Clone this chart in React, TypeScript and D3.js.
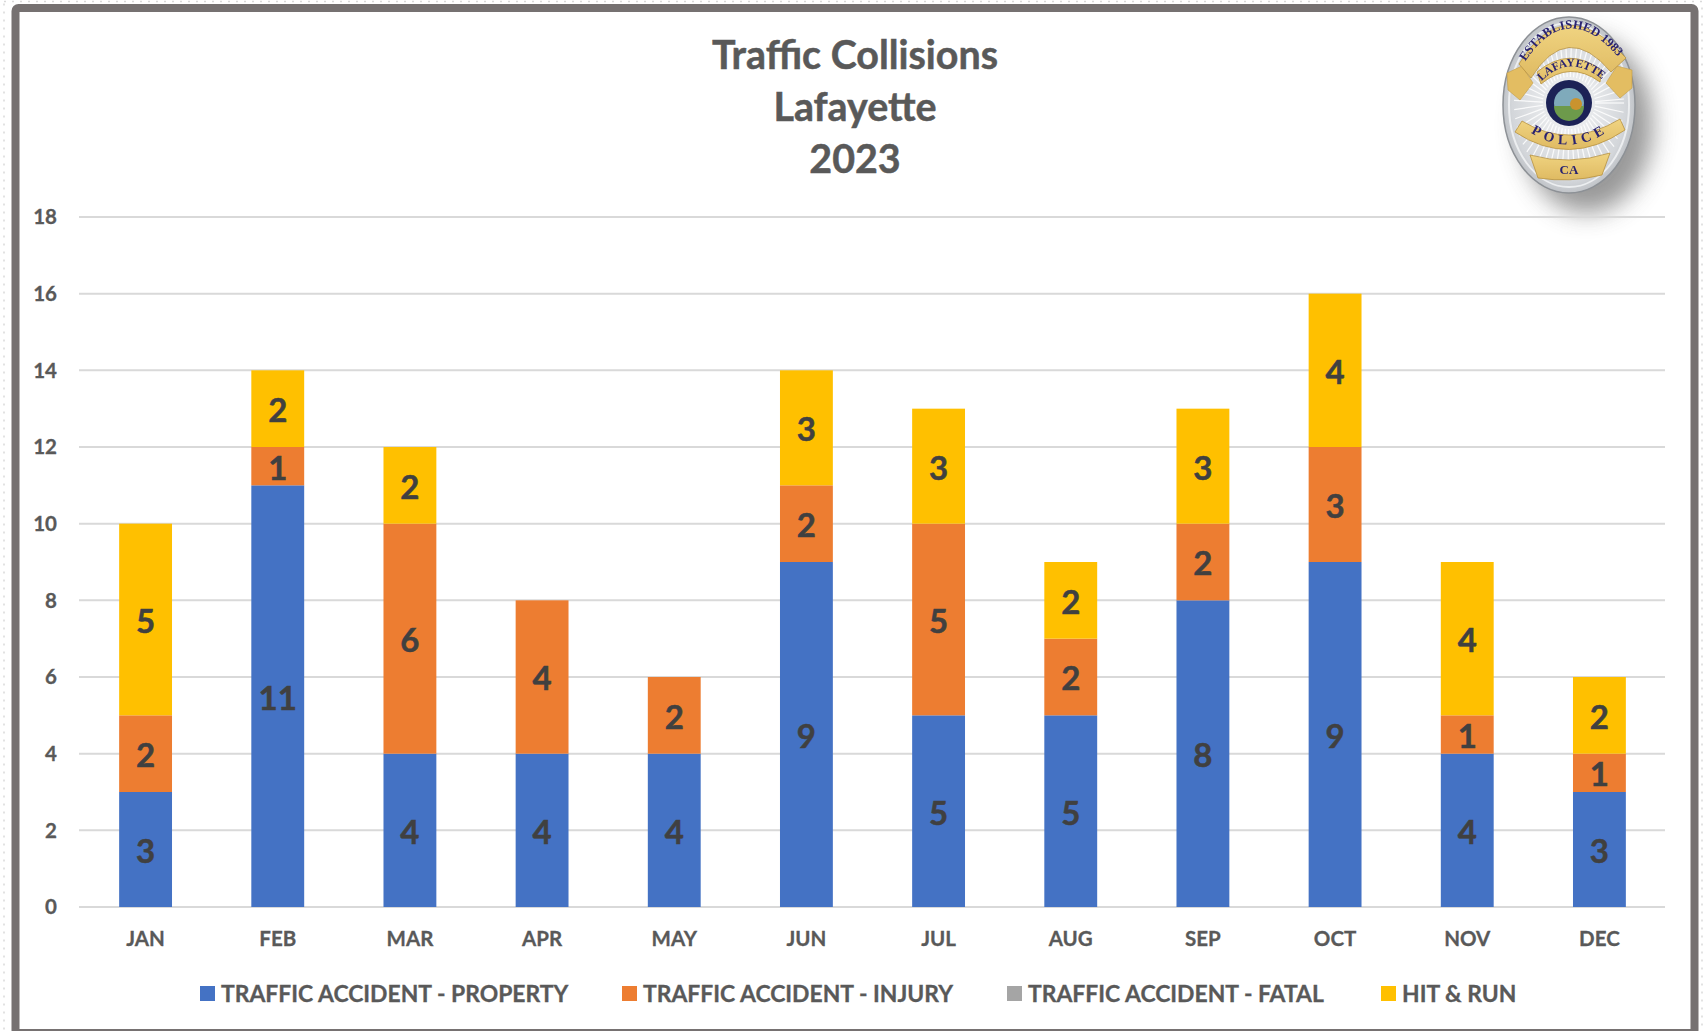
import React from "react";
import * as d3 from "d3";

const months = ["JAN","FEB","MAR","APR","MAY","JUN","JUL","AUG","SEP","OCT","NOV","DEC"];
const property = [3,11,4,4,4,9,5,5,8,9,4,3];
const injury = [2,1,6,4,2,2,5,2,2,3,1,1];
const fatal = [0,0,0,0,0,0,0,0,0,0,0,0];
const hitRun = [5,2,2,0,0,3,3,2,3,4,4,2];
const seriesNames = ["TRAFFIC ACCIDENT - PROPERTY","TRAFFIC ACCIDENT - INJURY","TRAFFIC ACCIDENT - FATAL","HIT & RUN"];
const seriesColors = ["#4472C4","#ED7D31","#A5A5A5","#FFC000"];
const titleLines = ["Traffic Collisions","Lafayette","2023"];
const yTicks = [0,2,4,6,8,10,12,14,16,18];

const W = 1706, H = 1031;
const FONT = "Lato, Carlito, sans-serif";
const legendX = [200, 622, 1007, 1381];
const NAVY = "#2a2470";

function Badge() {
  const serif = "'Liberation Serif', serif";
  return (
    <g>
      <defs>
        <filter id="blur" x="-40%" y="-40%" width="180%" height="180%"><feGaussianBlur stdDeviation="12" /></filter>
        <filter id="soft" x="-5%" y="-5%" width="110%" height="110%"><feGaussianBlur stdDeviation="0.45" /></filter>
        <radialGradient id="silver" cx="50%" cy="50%" r="60%">
          <stop offset="0" stopColor="#f6f7f8" /><stop offset="0.72" stopColor="#d3d6da" /><stop offset="1" stopColor="#a4a8ad" />
        </radialGradient>
        <linearGradient id="gold" x1="0" y1="0" x2="0" y2="1">
          <stop offset="0" stopColor="#f0d481" /><stop offset="1" stopColor="#dfba62" />
        </linearGradient>
        <path id="arcTop" d="M 1518 74 Q 1566 -14 1627 68" />
        <path id="arcLaf" d="M 1539 84 Q 1569 50 1605 82" />
        <path id="arcPol" d="M 1530 132 Q 1569 158 1610 130" />
      </defs>
      <ellipse cx={1587} cy={125} rx={66} ry={88} fill="#555" opacity={0.6} filter="url(#blur)" />
      <g filter="url(#soft)">
        <ellipse cx={1569} cy={105} rx={66} ry={88} fill="url(#silver)" stroke="#8d9196" strokeWidth={1.5} />
        <ellipse cx={1569} cy={105} rx={60} ry={82} fill="none" stroke="#eceef0" strokeWidth={2} />
        {d3.range(0, 360, 7).map(a => {
          const r = a * Math.PI / 180;
          return <line key={a} x1={1569 + 26 * Math.cos(r)} y1={103 + 26 * Math.sin(r)} x2={1569 + 55 * Math.cos(r)} y2={103 + 76 * Math.sin(r)} stroke="#fff" strokeWidth={1.2} opacity={0.85} />;
        })}
        <path d="M 1507 73 L 1522 66 L 1533 83 L 1520 100 L 1508 90 Z" fill="#e3bd62" stroke="#c29c45" strokeWidth={0.6} />
        <path d="M 1632 70 L 1617 66 L 1606 83 L 1620 98 L 1632 88 Z" fill="#e3bd62" stroke="#c29c45" strokeWidth={0.6} />
        <path d="M 1519 64 Q 1564 -10 1626 58 L 1611 72 Q 1567 20 1531 78 Z" fill="url(#gold)" stroke="#b8923f" strokeWidth={0.8} />
        <path d="M 1537 72 Q 1570 45 1602 71 L 1600 82 Q 1570 60 1541 84 Z" fill="url(#gold)" stroke="#b8923f" strokeWidth={0.8} />
        <path d="M 1522 121 Q 1569 150 1620 119 L 1625 130 Q 1569 168 1515 132 Z" fill="url(#gold)" stroke="#b8923f" strokeWidth={0.8} />
        <path d="M 1530 155 Q 1569 166 1610 153 L 1602 175 Q 1570 183 1538 178 Z" fill="url(#gold)" stroke="#b8923f" strokeWidth={0.8} />
        <circle cx={1569} cy={103} r={23} fill="#1d2457" />
        <circle cx={1569} cy={103} r={15} fill="#7faabb" />
        <path d="M 1554 106 L 1584 106 A 15 15 0 0 1 1554 106 Z" fill="#6d9a4c" />
        <circle cx={1576} cy={104} r={6} fill="#c9932f" />
        <text fontFamily={serif} fontSize={12.5} fontWeight="bold" fill={NAVY} textAnchor="middle"><textPath href="#arcTop" startOffset="50%">ESTABLISHED 1983</textPath></text>
        <text fontFamily={serif} fontSize={11.5} fontWeight="bold" fill={NAVY} textAnchor="middle"><textPath href="#arcLaf" startOffset="50%">LAFAYETTE</textPath></text>
        <text fontFamily={serif} fontSize={14} fontWeight="bold" letterSpacing={5} fill={NAVY} textAnchor="middle"><textPath href="#arcPol" startOffset="50%">POLICE</textPath></text>
        <text x={1569} y={174} textAnchor="middle" fontFamily={serif} fontSize={13} fontWeight="bold" fill={NAVY}>CA</text>
      </g>
    </g>
  );
}

export default function App() {
  const x = d3.scaleBand().domain(months).range([79.5, 1665.5]).paddingInner(0.6).paddingOuter(0.3);
  const y = d3.scaleLinear().domain([0, 18]).range([907, 217]);
  const rows = months.map((m, i) => ({ m, a: property[i], b: injury[i], c: fatal[i], d: hitRun[i] }));
  const stacked = d3.stack<any>().keys(["a","b","c","d"])(rows);

  return (
    <div style={{ position: "absolute", left: 0, top: 0, width: W, height: H, overflow: "hidden" }}>
      <svg width={W} height={H} style={{ display: "block" }} fontFamily={FONT}>
        <rect width={W} height={H} fill="#fff" />
        <rect x={4} y={1.5} width={1698} height={1032} fill="none" stroke="#d9d9d9" strokeWidth={1.5} strokeDasharray="2 6" />
        <rect x={15.5} y={8} width={1679} height={1025} rx={3} fill="#fff" stroke="#767171" strokeWidth={8} />
        {titleLines.map((t, i) => (
          <text key={t} x={855} y={69 + i * 52} textAnchor="middle" fontSize={39.4} fontWeight={700} fill="#595959" stroke="#595959" strokeWidth={0.5}>{t}</text>
        ))}
        <Badge />
        {yTicks.map(t => (
          <g key={t}>
            <line x1={79} x2={1665} y1={y(t)} y2={y(t)} stroke="#d9d9d9" strokeWidth={2} />
            <text x={57} y={y(t)} dy="0.36em" textAnchor="end" fontSize={20.5} fontWeight={700} fill="#595959" stroke="#595959" strokeWidth={0.3}>{t}</text>
          </g>
        ))}
        {stacked.map((s, si) => (
          <g key={s.key} fill={seriesColors[si]}>
            {s.map((d: any) => d[1] > d[0] && (
              <rect key={d.data.m} x={x(d.data.m)} width={x.bandwidth()} y={y(d[1])} height={y(d[0]) - y(d[1])} />
            ))}
          </g>
        ))}
        {stacked.map(s => s.map((d: any) => d[1] > d[0] && (
          <text key={s.key + d.data.m} x={x(d.data.m)! + x.bandwidth() / 2} y={y((d[0] + d[1]) / 2) + 1.5} dy="0.36em" textAnchor="middle" fontSize={33} fontWeight={700} fill="#404040" stroke="#404040" strokeWidth={0.5}>{d[1] - d[0]}</text>
        )))}
        {months.map(m => (
          <text key={m} x={x(m)! + x.bandwidth() / 2} y={939} dy="0.36em" textAnchor="middle" fontSize={20.5} fontWeight={700} fill="#595959" stroke="#595959" strokeWidth={0.3}>{m}</text>
        ))}
        {seriesNames.map((n, i) => (
          <g key={n}>
            <rect x={legendX[i]} y={986} width={15} height={15} fill={seriesColors[i]} />
            <text x={legendX[i] + 21} y={993.5} dy="0.36em" fontSize={22.9} fontWeight={700} fill="#595959" stroke="#595959" strokeWidth={0.3}>{n}</text>
          </g>
        ))}
      </svg>
    </div>
  );
}
